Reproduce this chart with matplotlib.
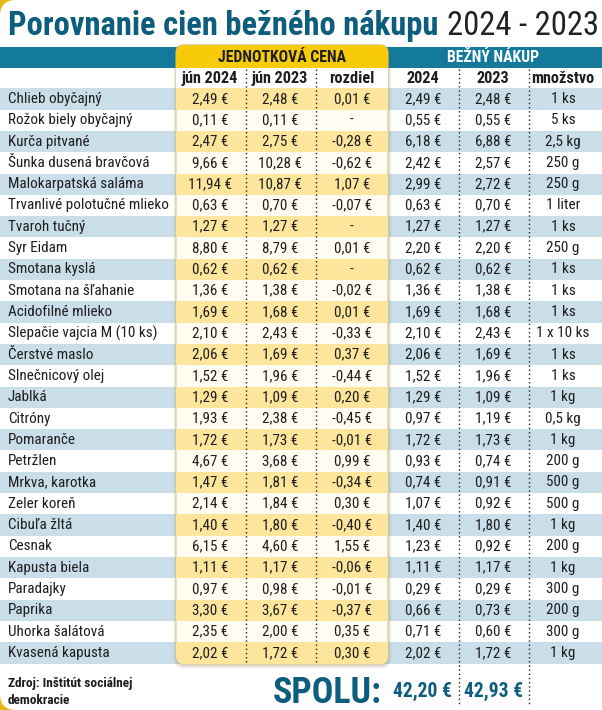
import matplotlib
matplotlib.use('Agg')
import matplotlib.pyplot as plt
from matplotlib.patches import Rectangle, FancyBboxPatch
from matplotlib import font_manager as fm

# ---------------- data ----------------
items = ["Chlieb obyčajný", "Rožok biely obyčajný", "Kurča pitvané", "Šunka dusená bravčová",
         "Malokarpatská saláma", "Trvanlivé polotučné mlieko", "Tvaroh tučný", "Syr Eidam",
         "Smotana kyslá", "Smotana na šľahanie", "Acidofilné mlieko", "Slepačie vajcia M (10 ks)",
         "Čerstvé maslo", "Slnečnicový olej", "Jablká", "Citróny", "Pomaranče", "Petržlen",
         "Mrkva, karotka", "Zeler koreň", "Cibuľa žltá", "Cesnak", "Kapusta biela", "Paradajky",
         "Paprika", "Uhorka šalátová", "Kvasená kapusta"]
jun2024 = [2.49, 0.11, 2.47, 9.66, 11.94, 0.63, 1.27, 8.80, 0.62, 1.36, 1.69, 2.10, 2.06, 1.52,
           1.29, 1.93, 1.72, 4.67, 1.47, 2.14, 1.40, 6.15, 1.11, 0.97, 3.30, 2.35, 2.02]
jun2023 = [2.48, 0.11, 2.75, 10.28, 10.87, 0.70, 1.27, 8.79, 0.62, 1.38, 1.68, 2.43, 1.69, 1.96,
           1.09, 2.38, 1.73, 3.68, 1.81, 1.84, 1.80, 4.60, 1.17, 0.98, 3.67, 2.00, 1.72]
rozdiel = [0.01, None, -0.28, -0.62, 1.07, -0.07, None, 0.01, None, -0.02, 0.01, -0.33, 0.37, -0.44,
           0.20, -0.45, -0.01, 0.99, -0.34, 0.30, -0.40, 1.55, -0.06, -0.01, -0.37, 0.35, 0.30]
nakup2024 = [2.49, 0.55, 6.18, 2.42, 2.99, 0.63, 1.27, 2.20, 0.62, 1.36, 1.69, 2.10, 2.06, 1.52,
             1.29, 0.97, 1.72, 0.93, 0.74, 1.07, 1.40, 1.23, 1.11, 0.29, 0.66, 0.71, 2.02]
nakup2023 = [2.48, 0.55, 6.88, 2.57, 2.72, 0.70, 1.27, 2.20, 0.62, 1.38, 1.68, 2.43, 1.69, 1.96,
             1.09, 1.19, 1.73, 0.74, 0.91, 0.92, 1.80, 0.92, 1.17, 0.29, 0.73, 0.60, 1.72]
mnozstvo = ["1 ks", "5 ks", "2,5 kg", "250 g", "250 g", "1 liter", "1 ks", "250 g", "1 ks", "1 ks",
            "1 ks", "1 x 10 ks", "1 ks", "1 ks", "1 kg", "0,5 kg", "1 kg", "200 g", "500 g", "500 g",
            "1 kg", "200 g", "1 kg", "300 g", "200 g", "300 g", "1 kg"]
col_headers = ["jún 2024", "jún 2023", "rozdiel", "2024", "2023", "množstvo"]
group_headers = ["JEDNOTKOVÁ CENA", "BEŽNÝ NÁKUP"]
totals = [42.20, 42.93]
title_main = "Porovnanie cien bežného nákupu"
title_years = "2024 - 2023"
source = ["Zdroj: Inštitút sociálnej", "demokracie"]

# ---------------- style ----------------
names = {f.name for f in fm.fontManager.ttflist}
FONT = 'Roboto'
for cand in ['Roboto Condensed', 'Open Sans Condensed', 'Liberation Sans Narrow', 'Roboto', 'Lato']:
    if cand in names:
        FONT = cand
        break
FAM = [FONT, 'DejaVu Sans']

TEAL = '#137a9c'
TITLE_TEAL = '#0d5d7e'
BLUE_ROW = '#c9dee9'
GOLD = '#f7cb0a'
YEL_ROW = '#fde59c'
TXT = '#1e1e1e'

W, H = 602, 710
fig = plt.figure(figsize=(W / 100, H / 100), dpi=100, facecolor='#e6b70c')
ax = fig.add_axes([0, 0, 1, 1])
ax.set_xlim(0, W)
ax.set_ylim(H, 0)
ax.axis('off')
r = fig.canvas.get_renderer()


def width(t):
    return t.get_window_extent(renderer=r).width


def fit_size(text, target, weight='normal', base=10):
    t = ax.text(0, 0, text, fontsize=base, family=FAM, weight=weight)
    w = width(t)
    t.remove()
    return base * target / w


def eur(v):
    return f"{v:.2f}".replace('.', ',') + " €"


# white page with rounded left corners
ax.add_patch(FancyBboxPatch((0, 0), W + 60, H, boxstyle='round,pad=0,rounding_size=16',
                            fc='white', ec='none', zorder=0))

# geometry
ROW0 = 88.3
RH = (663.5 - ROW0) / len(items)
BX0, BX1 = 176, 388
BTOP, BBOT = 45, 664
col_x = [210, 280, 352, 423, 493, 563]
seps_box = [246, 316]
seps_right = [459, 529]

# teal band
ax.add_patch(Rectangle((0, 46.7), W, 21.6, fc=TEAL, ec='none', zorder=1))
# stripes
for i in range(len(items)):
    if i % 2 == 0:
        ax.add_patch(Rectangle((0, ROW0 + i * RH), W, RH, fc=BLUE_ROW, ec='none', zorder=1))

# yellow box shadow + box
for k, a in [(3.0, 0.05), (2.0, 0.07), (1.0, 0.10)]:
    ax.add_patch(FancyBboxPatch((BX0 - k + 0.5, BTOP - k + 1.5), BX1 - BX0 + 2 * k, BBOT - BTOP + 2 * k,
                                boxstyle=f'round,pad=0,rounding_size={8 + k}', fc='#6b5a2a',
                                ec='none', alpha=a, zorder=2))
box = FancyBboxPatch((BX0, BTOP), BX1 - BX0, BBOT - BTOP, boxstyle='round,pad=0,rounding_size=8',
                     fc='#fffcf2', ec='#d6c58c', lw=0.8, zorder=3)
ax.add_patch(box)
inner = [Rectangle((BX0, BTOP), BX1 - BX0, 68.3 - BTOP, fc=GOLD, ec='none', zorder=3.5),
         Rectangle((BX0, 68.3), BX1 - BX0, ROW0 - 68.3, fc='white', ec='none', zorder=3.5)]
for i in range(len(items)):
    if i % 2 == 0:
        inner.append(Rectangle((BX0, ROW0 + i * RH), BX1 - BX0, RH, fc=YEL_ROW, ec='none', zorder=3.5))
for p in inner:
    ax.add_patch(p)
    p.set_clip_path(box)

# dotted separators
for x in seps_box:
    ax.plot([x, x], [69, BBOT - 1], ls=(0, (1, 2)), color='#222', lw=1, zorder=5)
for x in seps_right:
    ax.plot([x, x], [69, 705], ls=(0, (1, 2)), color='#222', lw=1, zorder=5)

# title
fs_title = fit_size(title_main, 430, weight='bold')
t1 = ax.text(8, 35, title_main, fontsize=fs_title, family=FAM, weight='bold', color=TITLE_TEAL,
             va='baseline', ha='left', zorder=6)
x_end = 8 + width(t1)
ax.text(x_end + 9, 35, title_years, fontsize=fs_title, family=FAM, weight='normal', color='#232323',
        va='baseline', ha='left', zorder=6)

# group headers
fs_g = fit_size(group_headers[0], 127, weight='bold')
ax.text((BX0 + BX1) / 2, 57.5, group_headers[0], fontsize=fs_g, family=FAM, weight='bold',
        color=TXT, ha='center', va='center', zorder=6)
ax.text(493, 57.5, group_headers[1], fontsize=fs_g, family=FAM, weight='bold',
        color='white', ha='center', va='center', zorder=6)

# column headers
fs_h = fit_size(col_headers[5], 63, weight='bold')
for x, h in zip(col_x, col_headers):
    ax.text(x, 78.5, h, fontsize=fs_h, family=FAM, weight='bold', color=TXT,
            ha='center', va='center', zorder=6)

# body
fs_b = fit_size(items[5], 160)
for i, name in enumerate(items):
    y = ROW0 + (i + 0.5) * RH
    ax.text(8, y, name, fontsize=fs_b, family=FAM, color=TXT, ha='left', va='center', zorder=6)
    vals = [eur(jun2024[i]), eur(jun2023[i]),
            '-' if rozdiel[i] is None else eur(rozdiel[i]),
            eur(nakup2024[i]), eur(nakup2023[i]), mnozstvo[i]]
    for x, v in zip(col_x, vals):
        ax.text(x, y, v, fontsize=fs_b, family=FAM, color=TXT, ha='center', va='center', zorder=6)

# footer
fs_src = fit_size(source[0], 125, weight='bold')
ax.text(8, 684, source[0], fontsize=fs_src, family=FAM, weight='bold', color=TXT,
        ha='left', va='center', zorder=6)
ax.text(8, 701, source[1], fontsize=fs_src, family=FAM, weight='bold', color=TXT,
        ha='left', va='center', zorder=6)

fs_sp = fit_size("SPOLU:", 109, weight='bold')
ax.text(273, 703, "SPOLU:", fontsize=fs_sp, family=FAM, weight='bold', color=TITLE_TEAL,
        ha='left', va='baseline', zorder=6)
fs_tot = fit_size(eur(totals[0]), 59, weight='bold')
for x, v in zip([422, 494], totals):
    ax.text(x, 697, eur(v), fontsize=fs_tot, family=FAM, weight='bold', color=TITLE_TEAL,
            ha='center', va='baseline', zorder=6)

fig.savefig('out.png', dpi=100, facecolor=fig.get_facecolor())
